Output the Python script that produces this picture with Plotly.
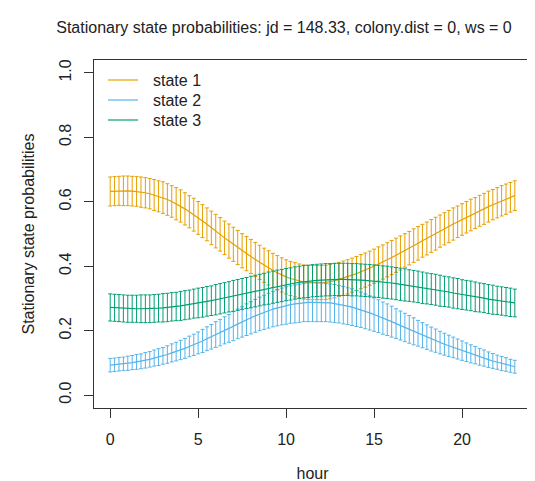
import plotly.graph_objects as go

# hours of the day, quarter-hour grid
hours = [h / 4 for h in range(93)]

# stationary probabilities (point estimates)
state1 = [
    0.632, 0.633, 0.634, 0.634, 0.634, 0.633, 0.632, 0.630,
    0.628, 0.625, 0.621, 0.617, 0.613, 0.607, 0.601, 0.594,
    0.587, 0.578, 0.569, 0.560, 0.550, 0.540, 0.530, 0.519,
    0.509, 0.499, 0.488, 0.478, 0.468, 0.458, 0.448, 0.439,
    0.430, 0.421, 0.412, 0.403, 0.395, 0.387, 0.380, 0.373,
    0.367, 0.362, 0.358, 0.354, 0.351, 0.350, 0.349, 0.349,
    0.349, 0.350, 0.352, 0.355, 0.359, 0.363, 0.367, 0.372,
    0.377, 0.383, 0.388, 0.394, 0.400, 0.407, 0.413, 0.420,
    0.427, 0.434, 0.441, 0.449, 0.456, 0.464, 0.471, 0.479,
    0.486, 0.494, 0.501, 0.509, 0.516, 0.523, 0.531, 0.538,
    0.545, 0.552, 0.559, 0.565, 0.572, 0.578, 0.585, 0.591,
    0.597, 0.603, 0.608, 0.614, 0.619,
]
state2 = [
    0.093, 0.094, 0.096, 0.097, 0.099, 0.101, 0.103, 0.105,
    0.108, 0.111, 0.115, 0.118, 0.122, 0.126, 0.131, 0.135,
    0.140, 0.145, 0.151, 0.156, 0.162, 0.168, 0.175, 0.181,
    0.188, 0.194, 0.201, 0.207, 0.214, 0.221, 0.227, 0.234,
    0.240, 0.246, 0.252, 0.257, 0.262, 0.267, 0.271, 0.275,
    0.278, 0.281, 0.283, 0.285, 0.287, 0.288, 0.288, 0.288,
    0.288, 0.287, 0.286, 0.284, 0.282, 0.279, 0.276, 0.273,
    0.269, 0.265, 0.260, 0.255, 0.250, 0.245, 0.239, 0.234,
    0.228, 0.222, 0.216, 0.210, 0.204, 0.198, 0.192, 0.186,
    0.180, 0.174, 0.169, 0.163, 0.158, 0.153, 0.148, 0.143,
    0.138, 0.133, 0.128, 0.124, 0.119, 0.115, 0.110, 0.106,
    0.102, 0.098, 0.095, 0.091, 0.088,
]
state3 = [
    0.272, 0.271, 0.270, 0.269, 0.268, 0.268, 0.268, 0.268,
    0.268, 0.268, 0.269, 0.270, 0.271, 0.272, 0.274, 0.275,
    0.277, 0.279, 0.281, 0.284, 0.286, 0.288, 0.291, 0.293,
    0.296, 0.299, 0.302, 0.305, 0.308, 0.311, 0.314, 0.317,
    0.320, 0.323, 0.326, 0.329, 0.332, 0.335, 0.338, 0.340,
    0.343, 0.345, 0.348, 0.350, 0.352, 0.353, 0.355, 0.356,
    0.357, 0.358, 0.358, 0.359, 0.359, 0.359, 0.359, 0.358,
    0.358, 0.357, 0.356, 0.355, 0.354, 0.353, 0.351, 0.350,
    0.348, 0.346, 0.344, 0.342, 0.340, 0.338, 0.336, 0.333,
    0.331, 0.329, 0.327, 0.324, 0.322, 0.320, 0.317, 0.315,
    0.312, 0.310, 0.308, 0.305, 0.303, 0.301, 0.298, 0.296,
    0.294, 0.292, 0.290, 0.288, 0.286,
]

# half widths of the confidence intervals
ci1 = [
    0.045, 0.045, 0.045, 0.046, 0.046, 0.046, 0.046, 0.047,
    0.047, 0.047, 0.048, 0.048, 0.049, 0.049, 0.049, 0.050,
    0.050, 0.050, 0.050, 0.051, 0.051, 0.051, 0.051, 0.052,
    0.052, 0.052, 0.052, 0.053, 0.053, 0.053, 0.053, 0.053,
    0.053, 0.053, 0.053, 0.053, 0.053, 0.053, 0.053, 0.053,
    0.053, 0.053, 0.053, 0.053, 0.053, 0.053, 0.053, 0.053,
    0.053, 0.053, 0.053, 0.053, 0.053, 0.053, 0.053, 0.053,
    0.053, 0.053, 0.053, 0.053, 0.053, 0.053, 0.053, 0.053,
    0.053, 0.053, 0.053, 0.052, 0.052, 0.052, 0.052, 0.051,
    0.051, 0.051, 0.051, 0.050, 0.050, 0.050, 0.050, 0.049,
    0.049, 0.049, 0.049, 0.048, 0.048, 0.048, 0.048, 0.047,
    0.047, 0.047, 0.047, 0.046, 0.046,
]
ci2 = [
    0.021, 0.021, 0.021, 0.021, 0.022, 0.022, 0.023, 0.023,
    0.024, 0.024, 0.025, 0.026, 0.026, 0.027, 0.028, 0.029,
    0.030, 0.031, 0.032, 0.033, 0.034, 0.036, 0.037, 0.038,
    0.040, 0.041, 0.042, 0.043, 0.045, 0.046, 0.047, 0.049,
    0.050, 0.051, 0.052, 0.053, 0.054, 0.055, 0.056, 0.057,
    0.058, 0.058, 0.059, 0.059, 0.059, 0.060, 0.060, 0.060,
    0.060, 0.059, 0.059, 0.059, 0.058, 0.058, 0.057, 0.057,
    0.056, 0.055, 0.054, 0.053, 0.052, 0.051, 0.050, 0.049,
    0.048, 0.046, 0.045, 0.044, 0.043, 0.042, 0.040, 0.039,
    0.038, 0.037, 0.036, 0.035, 0.034, 0.033, 0.032, 0.031,
    0.030, 0.029, 0.028, 0.027, 0.026, 0.025, 0.024, 0.023,
    0.022, 0.022, 0.021, 0.020, 0.020,
]
ci3 = [
    0.042, 0.042, 0.042, 0.042, 0.042, 0.042, 0.042, 0.043,
    0.043, 0.043, 0.043, 0.043, 0.044, 0.044, 0.044, 0.044,
    0.045, 0.045, 0.045, 0.045, 0.046, 0.046, 0.046, 0.046,
    0.047, 0.047, 0.047, 0.047, 0.048, 0.048, 0.048, 0.048,
    0.049, 0.049, 0.049, 0.049, 0.050, 0.050, 0.050, 0.050,
    0.050, 0.050, 0.050, 0.050, 0.050, 0.050, 0.050, 0.050,
    0.050, 0.050, 0.050, 0.050, 0.050, 0.050, 0.050, 0.050,
    0.050, 0.050, 0.050, 0.050, 0.050, 0.050, 0.050, 0.050,
    0.050, 0.050, 0.050, 0.050, 0.049, 0.049, 0.049, 0.049,
    0.048, 0.048, 0.048, 0.048, 0.047, 0.047, 0.047, 0.047,
    0.046, 0.046, 0.046, 0.046, 0.045, 0.045, 0.045, 0.045,
    0.044, 0.044, 0.044, 0.044, 0.043,
]

names = ["state 1", "state 2", "state 3"]
colors = ["#E69F00", "#56B4E9", "#009E73"]
font = "Liberation Sans, Arial, sans-serif"
txt = dict(family=font, size=16, color="#222")

# plot area in pixels (used for the hand-made legend, R style with bty="n")
L, R, T, B = 86, 523, 52, 400
def px_x(p):
    return (p - L) / (R - L)
def px_y(p):
    return (B - p) / (B - T)

fig = go.Figure()
for name, col, est, ci in zip(names, colors, [state1, state2, state3], [ci1, ci2, ci3]):
    fig.add_trace(go.Scatter(
        x=hours, y=est, name=name, mode="lines", showlegend=False,
        line=dict(color=col, width=1.2),
        error_y=dict(type="data", array=ci, visible=True, color=col, thickness=1, width=2),
    ))

# legend
for i, (name, col) in enumerate(zip(names, colors)):
    yy = px_y(72 + 20 * i)
    fig.add_shape(type="line", xref="paper", yref="paper", x0=px_x(100), x1=px_x(130),
                  y0=yy, y1=yy, line=dict(color=col, width=1.2))
    fig.add_annotation(xref="paper", yref="paper", x=px_x(143), y=yy, text=name,
                       showarrow=False, xanchor="left", yanchor="middle", font=txt)

axis_common = dict(
    showline=True, linecolor="#333", linewidth=1, mirror=True, automargin=False,
    ticks="outside", ticklen=9, tickcolor="#333", showgrid=False, zeroline=False,
    tickfont=txt,
)
fig.update_xaxes(range=[-0.92, 23.92], tickvals=[0, 5, 10, 15, 20], ticklabelstandoff=8,
                 title=dict(text="hour", font=txt, standoff=20),
                 **axis_common)
fig.update_yaxes(range=[-0.04, 1.04], tickvals=[0, 0.2, 0.4, 0.6, 0.8, 1.0], tickformat=".1f",
                 tickangle=-90, ticklabelstandoff=7,
                 title=dict(text="Stationary state probabilities", font=txt, standoff=17),
                 **axis_common)

fig.update_layout(
    width=535, height=481,
    margin=dict(l=L, r=535 - R, t=T, b=481 - B),
    paper_bgcolor="white", plot_bgcolor="white",
    title=dict(text="Stationary state probabilities: jd = 148.33, colony.dist = 0, ws = 0",
               x=276 / 535, xanchor="center", y=1 - 14 / 481, yanchor="top",
               font=txt),
    showlegend=False,
)

fig.write_html("out.html")
